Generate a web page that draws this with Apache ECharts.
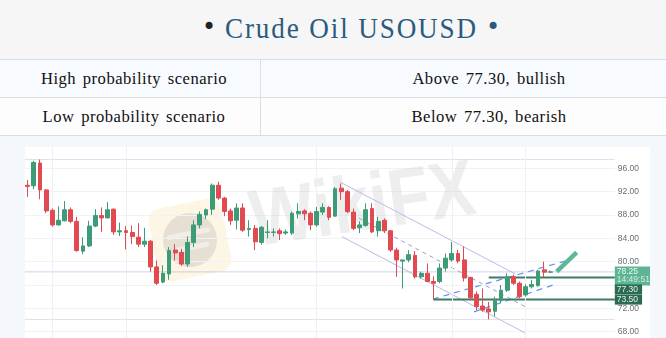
<!DOCTYPE html>
<html><head><meta charset="utf-8">
<script src="https://cdn.jsdelivr.net/npm/echarts@6/dist/echarts.min.js"></script>
<style>
html,body{margin:0;padding:0;}
body{width:666px;height:338px;overflow:hidden;position:relative;background:#f4f7fb;}
#head{position:absolute;left:0;top:0;width:666px;height:59px;background:#f6f6f6;}
#ttl{position:absolute;left:225px;top:11px;height:34px;line-height:34px;font-family:"Liberation Serif",serif;font-size:29px;letter-spacing:2px;color:#2b5a7e;white-space:nowrap;transform-origin:left center;}
.bul{position:absolute;top:15.4px;width:20px;text-align:center;line-height:24px;font-size:24px;font-family:"DejaVu Sans",sans-serif;}
.hl{position:absolute;left:0;width:666px;height:1px;background:#dadde2;}
.row{position:absolute;left:0;width:666px;height:37px;}
.cell{position:absolute;top:0;height:37px;line-height:37px;text-align:center;font-family:"Liberation Serif",serif;font-size:16.6px;letter-spacing:0.5px;word-spacing:2px;color:#111;white-space:nowrap;}
.strip{position:absolute;background:#f4f7fb;z-index:5;}
#chart{position:absolute;left:0;top:136px;width:666px;height:229px;}
</style></head>
<body>
<div id="head">
  <span class="bul" style="left:199px;color:#222;">•</span>
  <span id="ttl">Crude Oil USOUSD</span>
  <span class="bul" style="left:483px;color:#2b5a7e;">•</span>
</div>
<div class="hl" style="top:59px"></div>
<div class="row" style="top:60px;background:#f7fafe;">
  <div class="cell" style="left:0;width:268px;">High probability scenario</div>
  <div class="cell" style="left:312px;width:354px;">Above 77.30, bullish</div>
</div>
<div class="hl" style="top:97px"></div>
<div class="row" style="top:98px;background:#fdfdfe;">
  <div class="cell" style="left:0;width:268px;">Low probability scenario</div>
  <div class="cell" style="left:312px;width:354px;">Below 77.30, bearish</div>
</div>
<div class="hl" style="top:135px"></div>
<div style="position:absolute;left:260px;top:60px;width:1px;height:75px;background:#dadde2;"></div>
<div id="chart"></div>
<div class="strip" style="left:0;top:136px;width:666px;height:11px"></div>
<div class="strip" style="left:0;top:136px;width:25px;height:202px"></div>
<div class="strip" style="left:650px;top:136px;width:16px;height:202px"></div>
<script>
// ---- data (daily candles, oldest first) ----
const opens = [93.1,93.0,96.9,92.3,88.8,86.3,87.0,88.9,86.9,81.8, 82.7,86.1,87.9,87.5,89.0,85.1,85.3,85.0,84.2,83.0, 83.5,79.1,76.5,77.9,82.0,81.6,79.6,83.3,86.3,88.0, 89.0,93.1,90.9,88.7,87.1,89.2,85.5,85.7,83.3,85.0, 85.0,85.3,84.9,84.9,88.2,88.7,88.3,86.3,88.5,89.3, 87.8,92.6,92.0,88.5,85.8,86.2,89.1,85.3,87.1,85.3, 82.0,80.1,80.3,81.1,77.4,78.0,76.6,76.6,78.9,80.3, 81.4,80.3,77.3,74.4,72.4,71.9,71.5,73.3,75.1,77.4, 76.3,74.3,75.7,75.9,78.6,78.2];
const closes = [92.9,97.0,92.3,88.7,86.3,87.1,88.9,86.9,81.9,82.7, 86.1,87.9,87.5,88.9,85.1,85.3,85.0,84.3,83.0,83.5, 79.1,76.3,78.0,81.9,81.5,79.6,83.3,86.3,88.1,88.9, 93.1,90.9,88.6,87.0,89.2,85.4,85.7,83.4,85.9,85.1, 85.1,84.8,85.1,88.3,88.6,88.2,86.3,88.6,89.3,87.6, 92.5,92.0,88.6,85.7,86.3,88.9,85.1,86.9,85.3,82.0, 80.3,80.3,81.2,77.4,78.0,76.6,76.3,78.9,80.6,81.4, 80.1,77.2,73.8,72.3,71.7,71.4,73.4,75.1,77.4,76.3, 74.0,75.7,76.1,78.4,78.2,78.25];
const lows = [91.1,92.4,90.7,88.3,86.0,86.2,86.9,86.6,81.7,81.3, 82.5,85.9,85.1,87.4,84.6,84.4,82.1,83.0,82.5,82.5, 78.3,76.0,76.3,76.9,80.2,79.3,79.1,82.5,85.7,87.3, 88.0,90.6,87.8,86.3,85.5,85.1,84.3,82.0,82.9,84.0, 84.3,83.7,84.6,84.6,87.4,87.1,85.4,86.0,88.0,87.1, 87.7,90.6,88.3,85.4,84.9,86.0,84.9,84.3,84.9,81.7, 77.4,75.4,79.9,77.1,77.1,76.5,73.5,76.3,78.3,80.0, 79.7,76.6,73.4,71.7,71.4,70.1,70.6,72.9,74.8,76.0, 73.7,74.0,75.4,75.7,77.4,78.1];
const highs = [94.0,97.3,97.5,92.4,89.1,89.5,90.4,89.3,87.7,84.2, 87.0,89.0,89.3,90.2,89.1,86.7,86.1,86.2,86.6,85.8, 83.7,80.2,79.4,82.5,83.0,82.2,84.3,87.1,88.6,89.1, 93.4,93.7,91.1,89.1,90.0,90.0,87.1,86.3,86.1,87.1, 85.7,85.7,85.5,88.6,90.0,89.0,88.6,89.4,90.0,89.5, 92.8,93.4,92.3,89.1,86.9,90.0,90.0,87.7,87.4,85.4, 82.4,80.3,82.0,81.8,78.3,79.7,77.5,79.7,81.4,83.4, 82.0,82.6,77.4,74.9,75.4,73.1,74.0,76.0,78.0,77.8, 76.6,76.1,76.9,78.6,80.0,78.5];
const emptyFutureDays = 10;
const yTicks = {min: 64, max: 100, step: 4};
const lastPrice = 78.25;
const lastTime = '14:49:51';
const resistance = 77.30, resistanceFromDay = 75;
const support = 73.50, supportFromDay = 66;
const sessionDays = [4, 16, 47, 69, 81];
// trend lines as [dayIndex, price] pairs
const channelUpper = [[50.9, 93.6], [79.3, 77.9]];
const channelLower = [[51.1, 84.3], [80.9, 67.8]];
const channelMid = [[51.6, 88.75], [80.9, 72.3]];
const riseUpper = [[65.9, 73.6], [87.4, 80.1]];
const riseLower = [[72.6, 71.4], [86.0, 76.2]];
const arrowPts = [[86.05, 78.28], [89.3, 81.6]];

// fit title width
(function () {
  const t = document.getElementById('ttl');
  const w = t.getBoundingClientRect().width;
  t.style.transform = 'scaleX(' + (253 / w) + ')';
})();

// ---- chart ----
const UP = '#3e9b78', DOWN = '#e14a50';
const nTotal = opens.length + emptyFutureDays;
const categories = Array.from({length: nTotal}, (_, i) => 'D' + (i + 1));
const xMax = nTotal - 0.5;
const candleData = opens.map((o, i) => [o, closes[i], lows[i], highs[i]]);
const maxHigh = Math.max(...highs), minLow = Math.min(...lows);

function seg(pts, color, type, width) {
  return {type: 'line', xAxisIndex: 1, yAxisIndex: 0, data: pts, symbol: 'none', silent: true,
    lineStyle: {color: color, type: type, width: width}, z: 3};
}
function levelLine(fromDay, price, color, width, type, label) {
  const s = seg([[fromDay, price], [xMax, price]], color, type, width);
  s.z = 4;
  s.endLabel = label;
  return s;
}
const chart = echarts.init(document.getElementById('chart'), null, {renderer: 'canvas'});
const option = {
  animation: false,
  backgroundColor: '#ffffff',
  textStyle: {fontFamily: 'Liberation Sans'},
  grid: {left: 24.6, right: 51.2, top: 8.96, bottom: 9.96, outerBoundsMode: 'none'},
  xAxis: [
    {type: 'category', data: categories, boundaryGap: true, show: false},
    {type: 'value', min: -0.5, max: xMax, show: false}
  ],
  yAxis: {type: 'value', position: 'right', min: yTicks.min, max: yTicks.max, interval: yTicks.step,
    axisLine: {show: false}, axisTick: {show: false},
    axisLabel: {color: '#6a6d74', fontSize: 8.5, margin: 3, formatter: v => v.toFixed(2)},
    splitLine: {lineStyle: {color: '#f1f2f5', width: 1}}},
  graphic: [
    {type: 'group', x: 190, y: 104, rotation: 0.2, z: 1, silent: true, children: [
      {type: 'rect', shape: {x: -37, y: -37, width: 74, height: 74, r: 12}, style: {fill: 'rgba(252,226,165,0.30)'}},
      {type: 'circle', shape: {cx: 0, cy: 0, r: 27}, style: {fill: 'rgba(160,160,168,0.26)'}},
      {type: 'rect', shape: {x: -22, y: -9, width: 44, height: 5, r: 2.5}, style: {fill: 'rgba(255,255,255,0.45)'}},
      {type: 'rect', shape: {x: -18, y: 5, width: 36, height: 5, r: 2.5}, style: {fill: 'rgba(255,255,255,0.45)'}}
    ]},
    {type: 'text', x: 363, y: 72, rotation: 0.145, scaleX: 0.85, z: 1, silent: true,
      style: {text: 'WikiFX', font: 'bold 80px "Liberation Sans"', fill: 'rgba(190,190,190,0.26)', align: 'center', verticalAlign: 'middle'}}
  ],
  series: [
    {type: 'candlestick', xAxisIndex: 0, yAxisIndex: 0, data: candleData, barWidth: '70%', z: 5,
      itemStyle: {color: UP, color0: DOWN, borderColor: UP, borderColor0: DOWN, borderWidth: 1},
      markLine: {silent: true, symbol: 'none', label: {show: false},
        lineStyle: {color: '#c4c5ce', type: 'dotted', width: 1},
        data: [{yAxis: maxHigh}, {yAxis: minLow}]}},
    {type: 'line', xAxisIndex: 1, yAxisIndex: 0, data: [], symbol: 'none', silent: true, z: 1,
      markLine: {silent: true, symbol: 'none', label: {show: false},
        lineStyle: {color: '#eef0f3', type: 'solid', width: 1},
        data: sessionDays.map(d => ({xAxis: d}))}},
    seg(channelUpper, '#b7bde8', 'solid', 1),
    seg(channelLower, '#b7bde8', 'solid', 1),
    seg(channelMid, '#97a0c4', [4, 4], 1),
    seg(riseUpper, '#6a8fe6', [6, 5], 1.2),
    seg(riseLower, '#6a8fe6', [6, 5], 1.2),
    levelLine(-0.5, lastPrice, '#a29fe0', 1, 'dotted', {show: true, distance: 0, offset: [0, 4],
      formatter: () => '{a|' + lastPrice.toFixed(2) + '}\n{b|' + lastTime + '}',
      backgroundColor: '#5db593', padding: [1, 1, 1, 2],
      rich: {a: {color: '#eef8f3', fontSize: 8.5, lineHeight: 8.5}, b: {color: '#cdeedf', fontSize: 8.5, lineHeight: 8.5}}}),
    levelLine(resistanceFromDay, resistance, '#3b7d62', 2, 'solid', {show: true, distance: 0, offset: [0, 12],
      formatter: () => resistance.toFixed(2), backgroundColor: '#2c6b52', color: '#e6f1ec',
      fontSize: 8.5, lineHeight: 9, padding: [0.5, 4, 0.5, 2]}),
    levelLine(supportFromDay, support, '#3b7d62', 2, 'solid', {show: true, distance: 0, offset: [0, 0],
      formatter: () => support.toFixed(2), backgroundColor: '#2c6b52', color: '#e6f1ec',
      fontSize: 8.5, lineHeight: 9, padding: [0.5, 4, 0.5, 2]}),
    {type: 'line', xAxisIndex: 1, yAxisIndex: 0, data: arrowPts, symbol: 'none', silent: true, z: 6,
      lineStyle: {opacity: 0},
      markLine: {silent: true, symbol: ['none', 'arrow'], symbolSize: [0, 16], label: {show: false},
        lineStyle: {color: '#5cb896', width: 4.5, type: 'solid'},
        data: [[{coord: arrowPts[0]}, {coord: arrowPts[1]}]]}}
  ]
};
chart.setOption(option);
</script>
</body></html>
